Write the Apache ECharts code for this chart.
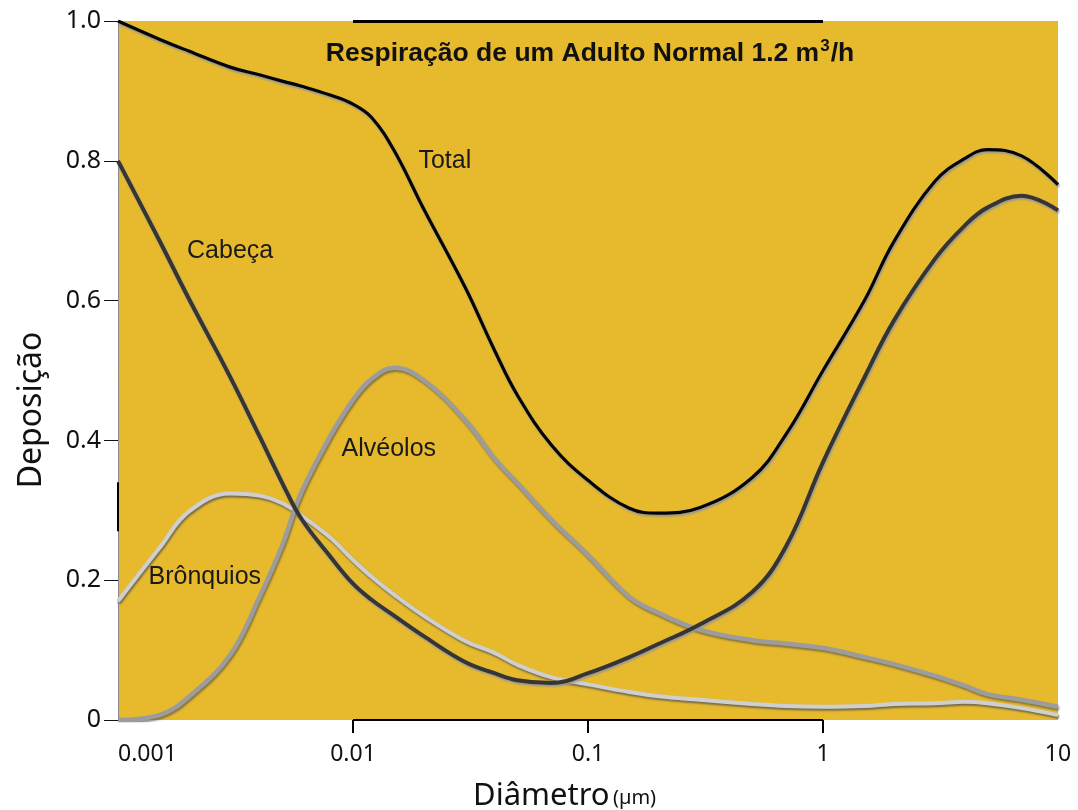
<!DOCTYPE html>
<html>
<head>
<meta charset="utf-8">
<script src="https://cdn.jsdelivr.net/npm/echarts@6/dist/echarts.min.js"></script>
<style>
  html, body { margin: 0; padding: 0; background: #ffffff; }
  #chart { width: 1078px; height: 810px; }
</style>
</head>
<body>
<div id="chart"></div>
<script>
// Particle diameter (µm), shared grid for all deposition curves
const diameters = [0.001, 0.0015, 0.002, 0.003, 0.004, 0.005, 0.006, 0.008, 0.01, 0.012, 0.015, 0.02, 0.03, 0.04, 0.05, 0.07,
  0.1, 0.15, 0.2, 0.3, 0.5, 0.7, 1, 1.5, 2, 3, 4, 5, 7, 10];

// Deposition fraction per region
const total = [1.0, 0.974, 0.957, 0.934, 0.923, 0.914, 0.907, 0.894, 0.881, 0.862, 0.814, 0.731, 0.619, 0.529, 0.465, 0.393,
  0.343, 0.303, 0.296, 0.304, 0.347, 0.41, 0.5, 0.6, 0.684, 0.771, 0.803, 0.816, 0.807, 0.766];
const cabeca = [0.8, 0.686, 0.603, 0.491, 0.406, 0.339, 0.289, 0.234, 0.195, 0.172, 0.149, 0.12, 0.083, 0.067, 0.057, 0.053,
  0.067, 0.09, 0.109, 0.137, 0.183, 0.25, 0.369, 0.49, 0.571, 0.66, 0.707, 0.733, 0.75, 0.729];
const alveolos = [0.0, 0.007, 0.033, 0.093, 0.176, 0.25, 0.324, 0.406, 0.458, 0.488, 0.504, 0.486, 0.429, 0.374, 0.339, 0.286,
  0.236, 0.176, 0.153, 0.129, 0.114, 0.109, 0.103, 0.09, 0.08, 0.063, 0.049, 0.037, 0.029, 0.019];
const bronquios = [0.17, 0.246, 0.298, 0.324, 0.321, 0.31, 0.293, 0.261, 0.229, 0.205, 0.179, 0.149, 0.113, 0.096, 0.079, 0.061,
  0.051, 0.04, 0.034, 0.029, 0.023, 0.02, 0.019, 0.02, 0.023, 0.024, 0.026, 0.024, 0.017, 0.007];

// Axis ticks
const xTickLabels = [0.001, 0.01, 0.1, 1, 10];
const xInnerTicks = [0.01, 0.1, 1];

// Curve names and where their labels sit, in data coordinates
const curveLabels = [
  { text: 'Total', at: [0.0246, 0.80] },
  { text: 'Cabeça', at: [0.0030, 0.671] },
  { text: 'Alvéolos', at: [0.0142, 0.387] },
  { text: 'Brônquios', at: [0.00234, 0.204] }
];
const titleText = ['Respiração de um Adulto Normal 1.2 m', '3', '/h'];
const xName = ['Diâmetro', '(µm)'];
const yName = 'Deposição';

const pairs = ys => diameters.map((d, i) => [d, ys[i]]);

const chart = echarts.init(document.getElementById('chart'), null, { renderer: 'canvas' });

function curve(name, ys, color, width, shadow, z) {
  return {
    name, type: 'line', data: pairs(ys), showSymbol: false, smooth: 0.4,
    z, silent: true, animation: false,
    lineStyle: { color, width, shadowColor: shadow, shadowBlur: 2, shadowOffsetX: 1, shadowOffsetY: 2 }
  };
}

const option = {
  backgroundColor: '#ffffff',
  animation: false,
  grid: { left: 118, right: 20, top: 21, bottom: 90, show: true, backgroundColor: '#E7BA2E', borderWidth: 0 },
  xAxis: {
    type: 'log', logBase: 10, min: 0.001, max: 10,
    axisLine: { show: false },
    axisTick: { show: true, customValues: xInnerTicks, length: 13, lineStyle: { color: '#000', width: 2 } },
    axisLabel: {
      customValues: xTickLabels, margin: 23, color: '#111', fontSize: 23, fontFamily: 'Noto Sans',
      alignMinLabel: 'left', alignMaxLabel: 'center',
      formatter: v => String(v)
    },
    splitLine: { show: false }
  },
  yAxis: {
    type: 'value', min: 0, max: 1, interval: 0.2,
    axisLine: { show: true, lineStyle: { color: '#8a8a8a', width: 1 } },
    axisTick: { show: true, length: 14, lineStyle: { color: '#111', width: 1 } },
    axisLabel: {
      color: '#111', fontSize: 25, fontFamily: 'Noto Sans', margin: 17,
      formatter: v => (v === 0 ? '0' : v.toFixed(1))
    },
    splitLine: { show: false }
  },
  series: [
    curve('Brônquios', bronquios, '#cfcfcf', 4, 'rgba(80,80,80,0.75)', 2),
    curve('Alvéolos', alveolos, '#9c9c9c', 4.5, 'rgba(70,70,70,0.6)', 3),
    curve('Cabeça', cabeca, '#353535', 4, 'rgba(150,150,150,0.9)', 4),
    Object.assign(curve('Total', total, '#050505', 3.2, 'rgba(150,150,150,0.95)', 5), {
      markLine: {
        silent: true, symbol: 'none', label: { show: false }, animation: false,
        data: [
          [{ coord: [0.001, 1], lineStyle: { color: '#b5b5b5', width: 1, type: 'solid' } }, { coord: [10, 1] }],
          [{ coord: [0.01, 1], lineStyle: { color: '#000', width: 3, type: 'solid' } }, { coord: [1, 1] }],
          [{ coord: [0.01, 0], lineStyle: { color: '#000', width: 2, type: 'solid' } }, { coord: [1, 0] }],
          [{ coord: [0.001, 0.27], lineStyle: { color: '#000', width: 2, type: 'solid' } }, { coord: [0.001, 0.34] }]
        ]
      }
    })
  ]
};

chart.setOption(option);

// Curve names and the heading, placed from data coordinates
const graphics = curveLabels.map(l => {
  const p = chart.convertToPixel({ gridIndex: 0 }, l.at);
  return {
    type: 'text', x: p[0], y: p[1], z: 10, silent: true,
    style: { text: l.text, fill: '#1a1a1a', font: '25px "Liberation Sans", Arial, sans-serif', align: 'center', verticalAlign: 'middle' }
  };
});
const tp = chart.convertToPixel({ gridIndex: 0 }, [0.102, 0.953]);
graphics.push({
  type: 'text', x: tp[0], y: tp[1], z: 10, silent: true,
  style: {
    text: '{t|' + titleText[0] + '}{s|' + titleText[1] + '}{t|' + titleText[2] + '}',
    align: 'center', verticalAlign: 'middle',
    rich: {
      t: { fontSize: 26.5, fontWeight: 'bold', fontFamily: 'Liberation Sans', fill: '#111' },
      s: { fontSize: 17, fontWeight: 'bold', fontFamily: 'Liberation Sans', fill: '#111', padding: [0, 1, 15, 1] }
    }
  }
});
// Axis titles
graphics.push({
  type: 'text', x: 473, y: 796, z: 10, silent: true,
  style: {
    text: '{a|' + xName[0] + '} {b|' + xName[1] + '}', align: 'left', verticalAlign: 'middle',
    rich: {
      a: { fontSize: 31, fill: '#111', fontFamily: 'Noto Sans' },
      b: { fontSize: 20, fill: '#111', fontFamily: 'Noto Sans', padding: [5, 0, 0, 0] }
    }
  }
});
graphics.push({
  type: 'text', x: 32, y: 410, rotation: Math.PI / 2, z: 10, silent: true,
  style: { text: yName, fill: '#111', font: '32px "Noto Sans"', align: 'center', verticalAlign: 'middle' }
});
chart.setOption({ graphic: graphics });
</script>
</body>
</html>
